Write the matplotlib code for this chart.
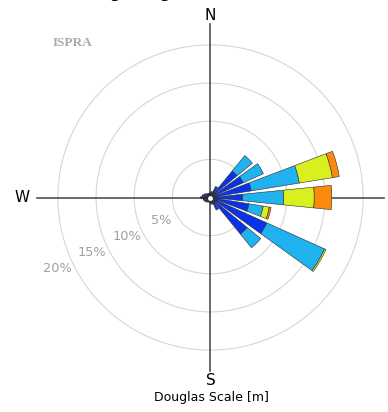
import numpy as np
import matplotlib.pyplot as plt

# direction bins (degrees, clockwise from north) and frequency (%) per Douglas class
directions = np.arange(0, 360, 15)
navy   = [0.7, 0.8, 1.0, 0.8, 0.8, 0.9, 0.9, 0.8, 0.9, 0.8, 1.0, 0.9,
          0.8, 0.6, 0.7, 0.8, 0.9, 1.0, 1.3, 1.1, 0.9, 0.7, 0.6, 0.6]
blue   = [0.0, 0.0, 0.6, 3.7, 3.9, 4.5, 3.3, 4.3, 7.2, 5.4, 0.8, 0.0,
          0.0, 0.0, 0.0, 0.0, 0.0, 0.0, 0.0, 0.0, 0.0, 0.0, 0.0, 0.0]
lblue  = [0.0, 0.0, 0.0, 2.6, 2.9, 6.4, 5.4, 1.9, 8.3, 2.3, 0.0, 0.0,
          0.0, 0.0, 0.0, 0.0, 0.0, 0.0, 0.0, 0.0, 0.0, 0.0, 0.0, 0.0]
yellow = [0.0, 0.0, 0.0, 0.0, 0.0, 4.4, 4.0, 0.8, 0.2, 0.0, 0.0, 0.0,
          0.0, 0.0, 0.0, 0.0, 0.0, 0.0, 0.0, 0.0, 0.0, 0.0, 0.0, 0.0]
orange = [0.0, 0.0, 0.0, 0.0, 0.0, 0.9, 2.3, 0.25, 0.0, 0.0, 0.0, 0.0,
          0.0, 0.0, 0.0, 0.0, 0.0, 0.0, 0.0, 0.0, 0.0, 0.0, 0.0, 0.0]
classes = [navy, blue, lblue, yellow, orange]
colors = ['#0d1a80', '#0a32e6', '#1fb2ee', '#daf01e', '#fb8a0c']

rings = [5, 10, 15, 20]
rmax = 23.2

fig = plt.figure(figsize=(3.88, 4.12), dpi=100)
ax = fig.add_axes([0.0863, 0.0910, 0.9124, 0.8592], projection='polar')
ax.set_theta_zero_location('N')
ax.set_theta_direction(-1)
ax.set_ylim(0, rmax)
ax.grid(False)
ax.set_xticks([])
ax.set_yticks([])
ax.spines['polar'].set_visible(False)

t = np.linspace(0, 2 * np.pi, 361)
for r in rings:
    ax.plot(t, np.full_like(t, r), color='#d6d6d6', lw=0.8, zorder=1)
    ax.text(np.deg2rad(245), r + 2.1, f'{r}%', color='#a0a0a0',
            fontsize=9.3, ha='center', va='center')

# compass cross
for a in [0, 90, 180, 270]:
    ax.plot([np.deg2rad(a)] * 2, [0, 22.8], color='#505050', lw=1.2, zorder=2)

theta = np.deg2rad(directions)
bottom = np.zeros(len(directions))
for vals, c in zip(classes, colors):
    vals = np.array(vals)
    m = vals > 0
    ax.bar(theta[m], vals[m], width=np.deg2rad(11.5), bottom=bottom[m],
           color=c, edgecolor='#2b2b2b', linewidth=0.4, zorder=3)
    bottom += vals
ax.plot(0, 0, 'o', color='white', ms=2.5, zorder=5)

ax.text(0, 23.9, 'N', ha='center', va='center', fontsize=11, clip_on=False)
ax.text(np.pi, 24.0, 'S', ha='center', va='center', fontsize=11, clip_on=False)
ax.text(1.5 * np.pi, 24.7, 'W', ha='center', va='center', fontsize=11, clip_on=False)

# title sits above the top edge, only its descenders fall inside
fig.text(0.544, 1 + 1.8 / 412, 'Sig. Height Wave Rose (Hs)', ha='center',
         va='baseline', fontsize=11, fontweight='bold')
fig.text(72 / 388, 1 - 43.5 / 412, 'ISPRA', family='Liberation Serif',
         fontweight='bold', color='#a8a8a8', fontsize=9.5, ha='center', va='center')
fig.text(211 / 388, 1 - 397 / 412, 'Douglas Scale [m]', ha='center', va='center',
         fontsize=9)

fig.savefig('out.png', dpi=100)
